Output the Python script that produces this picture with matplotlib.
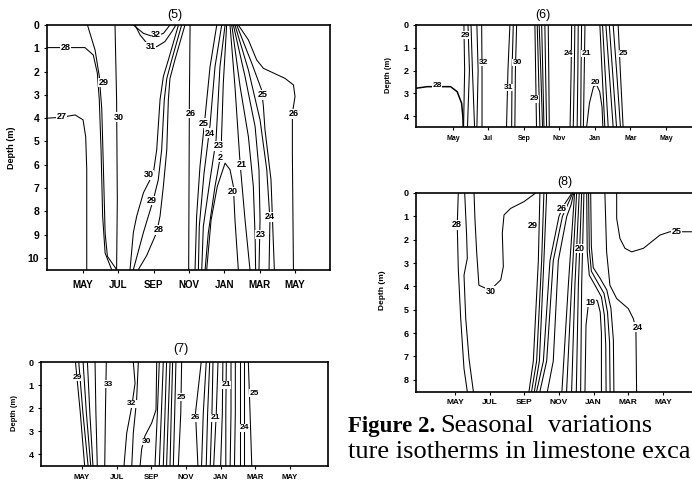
import matplotlib
matplotlib.use('Agg')
import matplotlib.pyplot as plt

plt.rcParams['font.family'] = ['Liberation Sans', 'DejaVu Sans']

W, H = 692, 482

months_uc = ['MAY', 'JUL', 'SEP', 'NOV', 'JAN', 'MAR', 'MAY']
months_lc = ['May', 'Jul', 'Sep', 'Nov', 'Jan', 'Mar', 'May']
month_ticks = [0, 2, 4, 6, 8, 10, 12]   # months after the first May

# ---- site (5): isotherms as (month, depth) traces
p5_lines = [
    ([-2.04, 0.11, 0.58, 0.81, 0.92, 1.02, 1.11, 1.25, 1.62], [0.97, 0.97, 1.29, 2.07, 3.21, 5.36, 8.21, 9.79, 10.5]),
    ([0.25, 0.68, 0.92, 1.06, 1.15, 1.25, 1.38, 1.9], [0, 1.07, 2.2, 3.6, 6.07, 8.93, 9.93, 10.5]),
    ([-2.04, -1.2, -0.45, 0.0, 0.15, 0.21, 0.21], [4.0, 3.96, 3.86, 4.07, 4.8, 6.2, 10.5]),
    ([1.81, 1.9, 1.94, 1.9], [0, 3.2, 7.5, 10.5]),
    ([2.85, 3.42, 3.98, 4.55, 4.92], [0, 0.36, 0.5, 0.36, 0]),
    ([2.94, 3.23, 3.7, 4.17, 4.64, 5.02, 5.26], [0, 0.43, 0.86, 0.93, 0.71, 0.29, 0]),
    ([5.4, 4.83, 4.55, 4.36, 4.17, 3.98, 3.42, 3.04, 2.85, 2.66], [0, 1.5, 2.2, 3.2, 5.36, 6.36, 7.2, 8.2, 8.9, 10.5]),
    ([5.58, 5.02, 4.74, 4.6, 4.45, 4.26, 3.98, 3.42, 2.85], [0, 1.5, 2.3, 3.2, 5.36, 6.64, 7.5, 8.9, 10.5]),
    ([5.77, 5.2, 4.92, 4.83, 4.74, 4.55, 4.36, 4.17, 3.6, 3.13], [0, 1.5, 2.3, 3.2, 5.36, 6.9, 8.2, 8.9, 9.9, 10.5]),
    ([6.06, 6.02, 5.98], [0, 3.2, 10.5]),
    ([7.57, 7.19, 6.91, 6.62, 6.43, 6.34], [0, 1.79, 3.93, 6.07, 8.21, 10.5]),
    ([7.85, 7.47, 7.19, 6.85, 6.58, 6.53], [0, 1.79, 4.29, 6.36, 8.64, 10.5]),
    ([8.04, 7.75, 7.53, 7.19, 6.81, 6.72], [0, 1.79, 4.93, 6.64, 8.64, 10.5]),
    ([8.13, 7.94, 7.81, 7.47, 7.09, 6.91], [0, 2.5, 5.5, 6.93, 8.93, 10.5]),
    ([7.0, 7.25, 7.6, 8.04, 8.32, 8.51, 8.6, 8.79], [10.5, 8.36, 6.93, 5.93, 6.21, 6.93, 8.36, 10.5]),
    ([8.32, 8.6, 8.89, 9.17, 9.45], [0, 2.64, 5.93, 8.36, 10.5]),
    ([8.42, 8.89, 9.36, 9.64, 9.74, 9.77], [0, 2.64, 4.79, 6.93, 9.07, 10.5]),
    ([8.51, 9.17, 9.74, 9.96, 10.02, 9.96], [0, 2.21, 4.36, 6.21, 8.36, 10.5]),
    ([8.6, 9.36, 10.02, 10.4, 10.58, 10.53], [0, 1.93, 4.07, 6.21, 8.36, 10.5]),
    ([8.7, 9.55, 10.11, 10.21, 10.3, 10.64, 10.83], [0, 1.64, 2.79, 3.5, 4.5, 6.64, 10.5]),
    ([8.79, 9.36, 9.83, 10.21, 11.43, 11.91, 12.0, 11.85, 11.85, 11.91], [0, 0.64, 1.5, 1.86, 2.29, 2.57, 3.07, 3.79, 5.5, 10.5]),
]
p5_labels = [('28', -1.0, 0.97), ('29', 1.15, 2.46), ('27', -1.21, 3.93), ('30', 2.04, 3.96),
             ('32', 4.13, 0.39), ('31', 3.83, 0.93), ('30', 3.7, 6.43), ('29', 3.89, 7.54),
             ('28', 4.26, 8.79), ('26', 6.11, 3.79), ('25', 6.81, 4.21), ('24', 7.15, 4.64),
             ('23', 7.66, 5.19), ('2', 7.79, 5.67), ('20', 8.47, 7.14), ('21', 8.98, 6.0),
             ('25', 10.17, 3.0), ('24', 10.58, 8.24), ('23', 10.06, 9.0), ('26', 11.94, 3.81)]

# ---- site (6)
p6_depth = [0, 2.0, 4.5]
p6_curve28 = ([-2.08, -1.45, -0.13, 0.24, 0.49, 0.56, 0.58], [2.78, 2.71, 2.71, 2.93, 3.44, 4.03, 4.5])
p6_dome20 = ([7.53, 7.69, 7.92, 8.1, 8.27, 8.4, 8.45], [4.5, 3.44, 2.71, 2.64, 2.93, 3.59, 4.5])
p6_top = [0.62, 0.85, 1.02, 1.35, 1.62, 3.21, 3.4, 3.59, 4.62, 4.75, 4.86, 5.0, 5.18, 5.37,
          6.69, 6.87, 7.06, 7.25, 7.44, 8.28, 8.43, 8.62, 8.81, 9.03, 9.31]
p6_mid = [0.66, 0.93, 1.1, 1.42, 1.64, 3.1, 3.33, 3.52, 4.66, 4.82, 4.95, 5.06, 5.22, 5.4,
          6.66, 6.84, 7.04, 7.22, 7.4, 8.4, 8.57, 8.8, 8.99, 9.22, 9.43]
p6_bot = [0.6, 0.82, 1.22, 1.35, 1.64, 3.02, 3.31, 3.49, 4.71, 4.9, 5.05, 5.13, 5.28, 5.43,
          6.6, 6.78, 7.0, 7.2, 7.35, 8.56, 8.75, 9.03, 9.22, 9.44, 9.59]
p6_labels = [('29', 0.68, 0.44), ('32', 1.75, 1.64), ('28', -0.88, 2.64), ('31', 3.13, 2.74),
             ('30', 3.62, 1.64), ('29', 4.58, 3.25), ('24', 6.5, 1.25), ('21', 7.5, 1.25),
             ('20', 8.0, 2.53), ('25', 9.63, 1.25)]

# ---- site (8)
p8_lines = [
    ([0.19, 0.13, 0.19, 0.33, 0.52, 0.71], [0, 1.37, 3.23, 5.38, 7.52, 8.5]),
    ([0.56, 0.67, 0.71, 0.52, 0.62, 0.81, 1.06], [0, 1.8, 2.8, 3.52, 5.38, 7.1, 8.5]),
    ([1.1, 1.15, 1.25, 1.38, 1.77, 2.25, 2.64, 2.79, 2.73, 2.83, 3.21, 3.98, 4.66],
     [0, 1.09, 2.52, 3.95, 4.08, 4.0, 3.72, 3.15, 1.72, 0.94, 0.66, 0.37, 0]),
    ([4.9, 4.81, 4.52, 4.27], [0, 2.9, 7.2, 8.5]),
    ([5.13, 5.0, 4.71, 4.42], [0, 2.9, 7.2, 8.5]),
    ([5.29, 5.13, 4.87, 4.58], [0, 2.9, 7.2, 8.5]),
    ([6.75, 6.3, 6.0, 5.48, 5.1, 4.71], [0, 0.5, 1.0, 2.9, 7.2, 8.5]),
    ([6.8, 6.5, 6.2, 5.67, 5.29, 4.9], [0, 0.5, 1.0, 2.9, 7.2, 8.5]),
    ([6.85, 6.7, 6.45, 5.96, 5.67, 5.33], [0, 0.5, 1.0, 2.9, 7.2, 8.5]),
    ([6.9, 6.54, 6.17], [0, 3.95, 8.5]),
    ([7.02, 6.73, 6.44], [0, 3.95, 8.5]),
    ([7.17, 6.92, 6.73], [0, 3.95, 8.5]),
    ([7.31, 7.12, 7.0], [0, 3.95, 8.5]),
    ([7.44, 7.31, 7.25], [0, 3.95, 8.5]),
    ([7.5, 7.56, 7.69, 7.98, 8.22, 8.38, 8.45, 8.45], [8.5, 5.67, 4.81, 4.52, 4.62, 5.1, 6.0, 8.5]),
    ([7.6, 7.63, 7.75, 8.08, 8.45, 8.62, 8.7, 8.72], [0, 2.52, 3.52, 3.95, 4.45, 5.24, 6.52, 8.5]),
    ([7.71, 7.75, 7.87, 8.21, 8.6, 8.8, 8.92, 8.95], [0, 2.4, 3.35, 3.8, 4.3, 5.1, 6.4, 8.5]),
    ([7.83, 7.87, 7.98, 8.37, 8.76, 9.0, 9.14, 9.17], [0, 2.3, 3.2, 3.65, 4.15, 4.95, 6.3, 8.5]),
    ([8.65, 8.75, 8.94, 9.33, 10.0, 10.29, 10.44, 10.48], [0, 2.52, 3.95, 4.52, 4.95, 5.38, 5.81, 8.5]),
    ([9.33, 9.33, 9.52, 9.81, 10.19, 10.87, 11.83, 12.4, 13.67, 14.5],
     [0, 1.09, 1.95, 2.37, 2.52, 2.37, 1.8, 1.66, 1.66, 1.66]),
]
p8_labels = [('28', 0.13, 1.37), ('29', 4.5, 1.4), ('30', 2.06, 4.2), ('26', 6.15, 0.66),
             ('20', 7.21, 2.37), ('19', 7.83, 4.69), ('24', 10.52, 5.74), ('25', 12.79, 1.66)]

# ---- site (7)
p7_depth = [0, 2.2, 4.5]
p7_top = [-0.38, -0.19, 0.06, 0.31, 0.75, 1.4, 4.46, 4.69, 4.88, 5.08, 5.23, 5.42, 5.75,
          6.88, 7.17, 7.37, 7.56, 7.85, 8.13, 8.33, 8.6, 8.85, 9.1, 9.35, 9.6]
p7_mid = [-0.1, 0.05, 0.25, 0.45, 0.8, 1.35, 4.35, 4.58, 4.79, 4.98, 5.15, 5.35, 5.7,
          6.55, 7.0, 7.25, 7.5, 7.75, 8.1, 8.3, 8.6, 8.85, 9.1, 9.35, 9.7]
p7_bot = [0.15, 0.35, 0.5, 0.63, 0.88, 1.31, 4.21, 4.46, 4.69, 4.88, 5.08, 5.27, 5.56,
          6.69, 6.9, 7.17, 7.4, 7.6, 8.0, 8.3, 8.55, 8.8, 9.1, 9.35, 9.8]
p7_lines = [
    ([2.96, 3.06, 2.87, 2.58, 2.42], [0, 0.92, 1.92, 3.07, 4.5]),
    ([3.25, 3.15, 2.96, 2.87], [0, 1.64, 3.07, 4.5]),
    ([4.31, 4.27, 4.02, 3.63, 3.44, 3.35], [0, 2.07, 2.64, 3.2, 3.77, 4.5]),
]
p7_labels = [('29', -0.27, 0.67), ('33', 1.5, 0.96), ('32', 2.87, 1.81), ('30', 3.73, 3.43),
             ('25', 5.75, 1.52), ('26', 6.55, 2.42), ('21', 7.68, 2.42), ('21', 8.31, 0.99),
             ('24', 9.4, 2.85), ('25', 9.92, 1.35)]


fig = plt.figure(figsize=(W / 100, H / 100), dpi=100)


def axes_px(left, top, width, height):
    return fig.add_axes([left / W, 1 - (top + height) / H, width / W, height / H])


def panel(ax, lines, labels, xlim, depth, yticks, xlabels, fs_y, fs_x, fs_lab):
    for xs, ys in lines:
        ax.plot(xs, ys, color='k', lw=0.75, solid_joinstyle='round')
    for txt, x, y in labels:
        ax.text(x, y, txt, fontsize=fs_lab, fontweight='bold', ha='center', va='center',
                bbox=dict(fc='white', ec='none', pad=0.2), zorder=3)
    ax.set_xlim(*xlim)
    ax.set_ylim(depth, 0)
    ax.set_yticks(yticks)
    ax.set_yticklabels([str(t) for t in yticks], fontsize=fs_y, fontweight='bold')
    ax.set_xticks(month_ticks)
    ax.set_xticklabels(xlabels, fontsize=fs_x, fontweight='bold')
    ax.tick_params(direction='out', length=2.5, width=0.8, pad=3)
    for s in ax.spines.values():
        s.set_linewidth(1.2)


def groups(tops, mids, bots, depths):
    return [([t, m, b], depths) for t, m, b in zip(tops, mids, bots)]


ax5 = axes_px(47, 25, 283, 244.6)
panel(ax5, p5_lines, p5_labels, (-2.04, 13.98), 10.5, list(range(11)), months_uc, 7.5, 7, 6.5)
ax5.tick_params(axis='x', pad=5)

ax6 = axes_px(416, 25, 285.4, 102.4)
panel(ax6, [p6_curve28, p6_dome20] + groups(p6_top, p6_mid, p6_bot, p6_depth), p6_labels,
      (-2.08, 14), 4.5, [0, 1, 2, 3, 4], months_lc, 6.5, 5, 6)
ax6.lines[0].set_linewidth(1.1)

ax8 = axes_px(416, 193, 281.6, 198.5)
panel(ax8, p8_lines, p8_labels, (-2.25, 14), 8.5, list(range(9)), months_uc, 6.5, 6, 6.5)

ax7 = axes_px(41, 362, 287, 104)
panel(ax7, p7_lines + groups(p7_top, p7_mid, p7_bot, p7_depth), p7_labels,
      (-2.37, 14.2), 4.5, [0, 1, 2, 3, 4], months_uc, 6.5, 5.5, 6)


def ftext(x, y, s, **kw):
    fig.text(x / W, 1 - y / H, s, **kw)


for x, y, s in [(175, 15, '(5)'), (543, 15, '(6)'), (565, 182, '(8)'), (181, 349, '(7)')]:
    ftext(x, y, s, fontsize=9, ha='center', va='center')

for x, y, fs in [(12, 148, 6.5), (389, 75, 5.5), (383, 290, 6), (15, 413, 5.5)]:
    ftext(x, y, 'Depth (m)', fontsize=fs, fontweight='bold', rotation=90, ha='center', va='center')

serif = ['Liberation Serif', 'DejaVu Serif']
ftext(348, 432, 'Figure 2.', family=serif, fontweight='bold', fontsize=16.5, va='baseline')
ftext(440, 432, 'Seasonal', family=serif, fontsize=19, va='baseline')
ftext(548, 432, 'variations', family=serif, fontsize=19, va='baseline')
ftext(348, 458, 'ture isotherms in limestone exca', family=serif, fontsize=19, va='baseline')

fig.savefig('out.png', dpi=100)
